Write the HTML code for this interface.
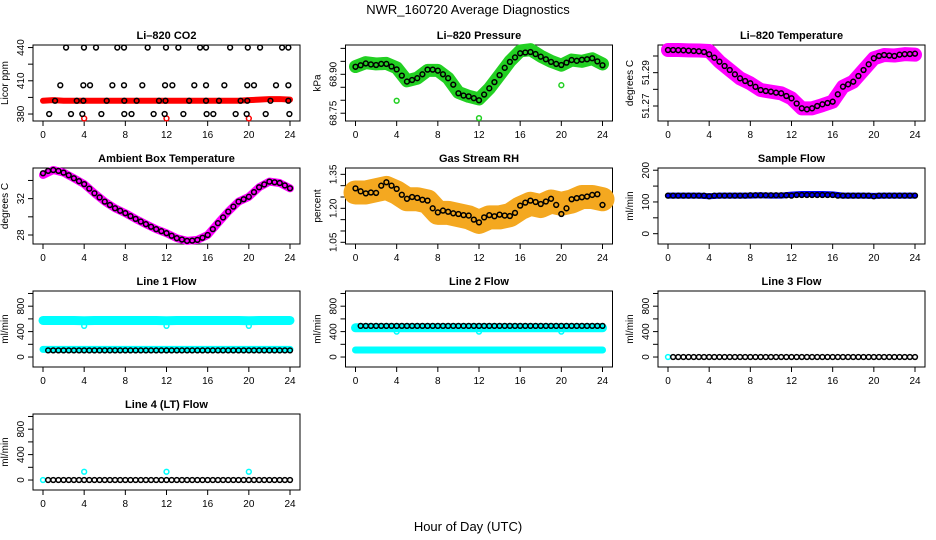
<!DOCTYPE html>
<html><head><meta charset="utf-8">
<style>
html,body{margin:0;padding:0;background:#fff;}
svg{display:block;font-family:"Liberation Sans",sans-serif;}
</style></head>
<body>
<svg id="chart" width="936" height="540" viewBox="0 0 936 540">
<text x="468" y="14" text-anchor="middle" font-size="13">NWR_160720  Average Diagnostics</text>
<text x="468" y="531" text-anchor="middle" font-size="13">Hour of Day (UTC)</text>
</svg>
<script>
const xTicks = [0,4,8,12,16,20,24];
const halfHours = [0,0.5,1,1.5,2,2.5,3,3.5,4,4.5,5,5.5,6,6.5,7,7.5,8,8.5,9,9.5,10,10.5,11,11.5,12,12.5,13,13.5,14,14.5,15,15.5,16,16.5,17,17.5,18,18.5,19,19.5,20,20.5,21,21.5,22,22.5,23,23.5,24];
const hours = [0,1,2,3,4,5,6,7,8,9,10,11,12,13,14,15,16,17,18,19,20,21,22,23,24];

// CO2
const co2Band = [392,392.5,392,392,392,392,392,392,392,392,392,392,392,392,392,392,392,392,392,392,392.5,393,393.5,393.5,393];
const co2BlackX = [2.24,3.98,5.15,7.22,7.87,10.17,11.95,13.15,15.26,15.84,18.18,19.9,21.09,23.23,23.84,
 1.68,3.92,4.57,6.74,7.87,9.65,11.86,12.57,14.7,15.84,17.62,19.85,20.5,22.64,23.84,
 1.17,3.28,3.92,6.19,7.9,9.1,11.27,11.9,14.2,15.84,17.1,19.2,19.85,22.1,23.84,
 0.6,2.72,3.82,5.67,7.9,8.6,10.75,11.82,13.64,15.9,16.55,18.72,19.79,21.64,23.94];
const co2BlackY = [440,440,440,440,440,440,440,440,440,440,440,440,440,440,440,
 406,406,406,406,406,406,406,406,406,406,406,406,406,406,406,
 392,392,392,392,392,392,392,392,392,392,392,392,392,392,392,
 380,380,380,380,380,380,380,380,380,380,380,380,380,380,380];
const co2OutX = [4,12,20];
const co2OutY = [376,376,376];

// Pressure
const presBand = [68.930,68.945,68.940,68.942,68.925,68.875,68.885,68.915,68.915,68.885,68.830,68.815,68.805,68.845,68.897,68.950,68.990,68.995,68.970,68.950,68.935,68.955,68.950,68.960,68.940];
const presBlack = [68.929,68.935,68.942,68.938,68.936,68.940,68.940,68.930,68.919,68.895,68.872,68.878,68.885,68.900,68.918,68.918,68.914,68.900,68.885,68.860,68.827,68.818,68.815,68.808,68.800,68.822,68.846,68.870,68.897,68.925,68.948,68.965,68.981,68.984,68.986,68.978,68.968,68.958,68.948,68.940,68.936,68.945,68.955,68.952,68.956,68.958,68.962,68.950,68.935];
const presOutX = [4,12,20];
const presOutY = [68.798,68.731,68.858];

// Li-820 temperature
const tempBand = [51.3036,51.3036,51.3034,51.3033,51.3030,51.2966,51.2916,51.2866,51.2836,51.2796,51.2786,51.2776,51.2746,51.2686,51.2686,51.2705,51.2726,51.2816,51.2846,51.2916,51.2986,51.3006,51.3003,51.3011,51.3008];
const tempBlack = [51.3036,51.3036,51.3035,51.3034,51.3032,51.3030,51.3028,51.3024,51.3010,51.2990,51.2966,51.2940,51.2916,51.2890,51.2866,51.2850,51.2836,51.2815,51.2796,51.2790,51.2786,51.2780,51.2776,51.2760,51.2746,51.2715,51.2686,51.2680,51.2686,51.2700,51.2710,51.2718,51.2726,51.2770,51.2816,51.2830,51.2846,51.2880,51.2916,51.2950,51.2986,51.3000,51.3006,51.3003,51.3000,51.3008,51.3011,51.3012,51.3014];

// Ambient
const ambBand = [34.6,35.15,34.86,34.24,33.6,32.59,31.67,30.94,30.4,29.77,29.19,28.64,28.2,27.65,27.35,27.46,28.0,29.3,30.57,31.67,32.2,33.25,33.87,33.72,33.14];
const ambBlack = [34.79,35.05,35.15,35.05,34.86,34.57,34.24,33.92,33.6,33.1,32.59,32.13,31.67,31.3,30.94,30.67,30.4,30.08,29.77,29.48,29.19,28.91,28.64,28.42,28.2,27.92,27.65,27.5,27.35,27.38,27.46,27.7,28.0,28.65,29.3,29.93,30.57,31.12,31.67,31.93,32.2,32.72,33.25,33.56,33.87,33.8,33.72,33.45,33.14];

// RH
const rhBand = [1.27,1.27,1.28,1.29,1.27,1.24,1.24,1.23,1.18,1.18,1.17,1.16,1.14,1.16,1.16,1.17,1.20,1.22,1.21,1.23,1.22,1.23,1.25,1.25,1.24];
const rhBlack = [1.288,1.275,1.266,1.270,1.268,1.300,1.315,1.300,1.286,1.260,1.242,1.250,1.246,1.238,1.234,1.200,1.182,1.190,1.185,1.178,1.175,1.170,1.168,1.150,1.138,1.160,1.170,1.165,1.172,1.168,1.166,1.180,1.212,1.225,1.234,1.228,1.219,1.230,1.242,1.215,1.175,1.200,1.240,1.245,1.249,1.252,1.259,1.262,1.215];

// Sample flow
const sampleBand = [120,120,120,120,118,120,120,120,120,121,120,120,123,125,125,125,124,120,120,120,119,120,120,120,120];
const sampleBlack = [120,120,120,120,120,120,120,120,118,120,120,120,120,120,120,120,121,121,121,121,121,121,121,121,120,122,122,122,122,122,122,122,122,120,120,120,120,120,120,120,118,120,120,120,120,120,120,120,120];

// Flows (hourly)
const line1Hi = [575,575,575,575,570,575,575,575,575,575,575,575,570,575,575,575,575,575,575,575,570,575,575,575,575];
const line1Lo = [120,120,120,120,120,120,120,120,120,120,120,120,120,120,120,120,120,120,120,120,120,120,120,120,120];
const line1Black = [105,105,105,105,105,105,105,105,105,105,105,105,105,105,105,105,105,105,105,105,105,105,105,105,105,105,105,105,105,105,105,105,105,105,105,105,105,105,105,105,105,105,105,105,105,105,105,105];
const line1DipX = [4,12,20];
const line1DipY = [490,490,490];
const line2Hi = [460,460,460,460,460,460,460,460,460,460,460,460,460,460,460,460,460,460,460,460,460,460,460,460,460];
const line2Lo = [110,110,110,110,110,110,110,110,110,110,110,110,110,110,110,110,110,110,110,110,110,110,110,110,110];
const line2Black = [490,490,490,490,490,490,490,490,490,490,490,490,490,490,490,490,490,490,490,490,490,490,490,490,490,490,490,490,490,490,490,490,490,490,490,490,490,490,490,490,490,490,490,490,490,490,490,490];
const line2DipX = [4,12,20];
const line2DipY = [400,400,400];
const line3Black = [0,0,0,0,0,0,0,0,0,0,0,0,0,0,0,0,0,0,0,0,0,0,0,0,0,0,0,0,0,0,0,0,0,0,0,0,0,0,0,0,0,0,0,0,0,0,0,0];
const line4Black = [0,0,0,0,0,0,0,0,0,0,0,0,0,0,0,0,0,0,0,0,0,0,0,0,0,0,0,0,0,0,0,0,0,0,0,0,0,0,0,0,0,0,0,0,0,0,0,0];
const line4SpikeX = [4,12,20];
const line4SpikeY = [130,130,130];
const flowYTicks = [0,200,400,600,800,1000];
const flowYLabels = ["0","","400","","800",""];

const NS = "http://www.w3.org/2000/svg";
const svg = document.getElementById('chart');
function mk(tag, attrs, parent){
  const e = document.createElementNS(NS, tag);
  for (const k in attrs) e.setAttribute(k, attrs[k]);
  (parent||svg).appendChild(e);
  return e;
}
function blackHours(n){
  const out=[]; for(let i=0;i<n;i++) out.push(0.5 + i*(23.5/(n-1))); return out;
}

function panel(col,row,name,title,ylab,ylim,yticks,ylabels){
  const x0 = 43 + 312.5*col, x1 = x0 + 247;
  const top = 45 + 123*row, bot = 121 + 123*row;
  const L = x0-10, R = x1+10;
  const g = mk('g',{});
  
  
  const sx = h => x0 + (h/24)*(x1-x0);
  const sy = v => bot - (v-ylim[0])/(ylim[1]-ylim[0])*(bot-top);
  const t = mk('text',{x:(L+R)/2,y:top-6,'text-anchor':'middle','font-size':'11','font-weight':'bold'},g);
  t.textContent = title;
  
  
  const box = mk('rect',{x:L,y:top,width:R-L,height:bot-top,fill:'none',stroke:'#000','stroke-width':1},g);
  
  
  const xa = mk('g',{},g);
  
  
  mk('line',{x1:sx(0),x2:sx(24),y1:bot,y2:bot,stroke:'#000'},xa);
  xTicks.forEach(h=>{
    mk('line',{x1:sx(h),x2:sx(h),y1:bot,y2:bot+5,stroke:'#000'},xa);
    const tx = mk('text',{x:sx(h),y:bot+17,'text-anchor':'middle','font-size':'10'},xa);
    tx.textContent = h;
  });
  const ya = mk('g',{},g);
  
  
  yticks.forEach((v,i)=>{
    const y = sy(v);
    mk('line',{x1:L,x2:L-5,y1:y,y2:y,stroke:'#000'},ya);
    if (ylabels[i]) {
      const tx = mk('text',{x:0,y:0,'text-anchor':'middle','font-size':'10',transform:`translate(${L-9},${y}) rotate(-90)`},ya);
      tx.textContent = ylabels[i];
    }
  });
  const yl = mk('text',{x:0,y:0,'text-anchor':'middle','font-size':'10',transform:`translate(${L-25},${(top+bot)/2}) rotate(-90)`},g);
  yl.textContent = ylab;
  
  
  return {g,sx,sy};
}
function band(p,name,xs,vs,color,w){
  const pl = mk('polyline',{points:xs.map((h,i)=>p.sx(h)+','+p.sy(vs[i])).join(' '),fill:'none',stroke:color,'stroke-width':w,'stroke-linejoin':'round','stroke-linecap':'round'},p.g);
  
  
}
function pts(p,name,xs,vs,color,r,sw){
  const g = mk('g',{},p.g);
  
  
  xs.forEach((h,i)=>{
    mk('circle',{cx:p.sx(h),cy:p.sy(vs[i]),r:r||2.4,fill:'none',stroke:color,'stroke-width':sw||1.5},g);
  });
}

// Row 1
let p = panel(0,0,'co2','Li\u2013820 CO2','Licor ppm',[373.7,442.3],[380,395,410,425,440],['380','','410','','440']);
band(p,'co2-band',hours,co2Band,'#ff0000',6);
pts(p,'co2-outliers',co2OutX,co2OutY,'#ff0000');
pts(p,'co2-averages',co2BlackX,co2BlackY,'#000');

p = panel(1,0,'pressure','Li\u2013820 Pressure','kPa',[68.720,69.013],[68.75,68.80,68.85,68.90,68.95,69.00],['68.75','','','68.90','','']);
band(p,'pressure-band',hours,presBand,'#22d022',13);
pts(p,'pressure-outliers',presOutX,presOutY,'#22d022');
pts(p,'pressure-averages',halfHours,presBlack,'#000');

p = panel(2,0,'li820-temperature','Li\u2013820 Temperature','degrees C',[51.261,51.3066],[51.27,51.28,51.29,51.30],['51.27','','51.29','']);
band(p,'temperature-band',hours,tempBand,'#ff00ff',14);
pts(p,'temperature-averages',halfHours,tempBlack,'#000');

// Row 2
p = panel(0,1,'ambient','Ambient Box Temperature','degrees C',[27.01,35.37],[28,30,32,34],['28','','32','']);
band(p,'ambient-band',hours,ambBand,'#ff00ff',8);
pts(p,'ambient-averages',halfHours,ambBlack,'#000');

p = panel(1,1,'rh','Gas Stream RH','percent',[1.0425,1.378],[1.05,1.10,1.15,1.20,1.25,1.30,1.35],['1.05','','','1.20','','','1.35']);
band(p,'rh-band',hours,rhBand,'#f4a820',24);
pts(p,'rh-averages',halfHours,rhBlack,'#000');

p = panel(2,1,'sample-flow','Sample Flow','ml/min',[-32.5,207],[0,50,100,150,200],['0','','100','','200']);
band(p,'sample-flow-band',hours,sampleBand,'#0000ff',6);
pts(p,'sample-flow-averages',halfHours,sampleBlack,'#000');

// Row 3
const flowLim = [-157,1039];
p = panel(0,2,'line1-flow','Line 1 Flow','ml/min',flowLim,flowYTicks,flowYLabels);
band(p,'line1-high-band',hours,line1Hi,'#00ffff',9);
band(p,'line1-low-band',hours,line1Lo,'#00ffff',7);
pts(p,'line1-dips',line1DipX,line1DipY,'#00ffff');
pts(p,'line1-averages',blackHours(line1Black.length),line1Black,'#000');

p = panel(1,2,'line2-flow','Line 2 Flow','ml/min',flowLim,flowYTicks,flowYLabels);
band(p,'line2-high-band',hours,line2Hi,'#00ffff',9);
band(p,'line2-low-band',hours,line2Lo,'#00ffff',7);
pts(p,'line2-dips',line2DipX,line2DipY,'#00ffff');
pts(p,'line2-averages',blackHours(line2Black.length),line2Black,'#000');

p = panel(2,2,'line3-flow','Line 3 Flow','ml/min',flowLim,flowYTicks,flowYLabels);
pts(p,'line3-start',[0],[0],'#00ffff');
pts(p,'line3-averages',blackHours(line3Black.length),line3Black,'#000');

// Row 4
p = panel(0,3,'line4-flow','Line 4 (LT) Flow','ml/min',flowLim,flowYTicks,flowYLabels);
pts(p,'line4-start',[0],[0],'#00ffff');
pts(p,'line4-spikes',line4SpikeX,line4SpikeY,'#00ffff');
pts(p,'line4-averages',blackHours(line4Black.length),line4Black,'#000');
</script>
</body></html>
